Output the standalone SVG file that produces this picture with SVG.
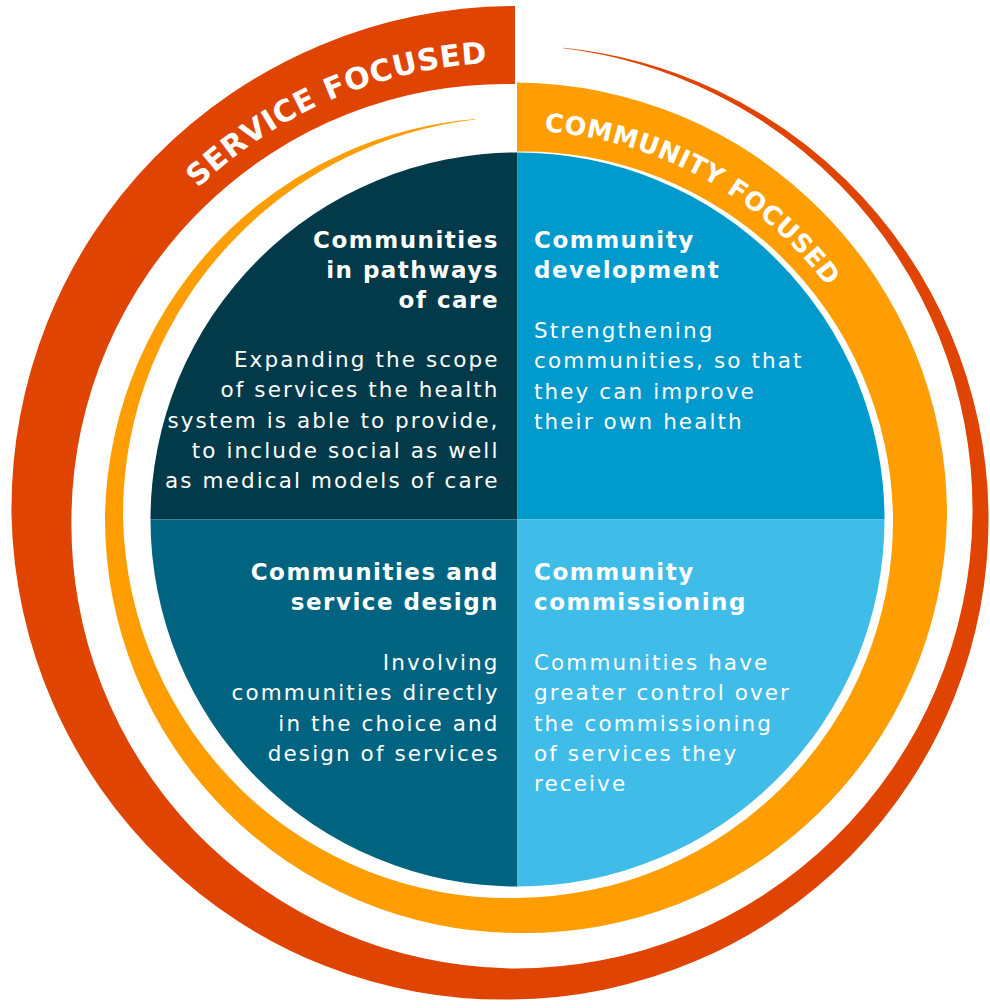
<svg xmlns="http://www.w3.org/2000/svg" width="990" height="1008" viewBox="0 0 990 1008">
<style>
.h{font-family:"DejaVu Sans",Verdana,sans-serif;font-weight:bold;font-size:23px;letter-spacing:1.5px;fill:#fff}
.b{font-family:"DejaVu Sans",Verdana,sans-serif;font-size:21.5px;letter-spacing:2.1px;fill:#fff}
.r{text-anchor:end}
.arc{font-family:"DejaVu Sans",Verdana,sans-serif;font-weight:bold;fill:#fff;text-anchor:middle}
</style>
<defs>
<path id="pSvc" d="M86.3,359.9 A452,452 0 0 1 511,62.5"/>
<path id="pCom" d="M517,130.5 A386,386 0 0 1 897.1,449.5"/>
</defs>
<rect width="990" height="1008" fill="#fff"/>
<g id="ring-service">
<path fill="#E04403" d="M563.4,47.7 A471.6,471.6 0 0 1 845.8,179.7 A475.5,475.5 0 0 1 988.5,514.5 A479.5,479.5 0 0 1 851.5,855 A483.3,483.3 0 0 1 511,999.5 A488.3,488.3 0 0 1 163.5,862 A495.5,495.5 0 0 1 11.5,514.5 A502,502 0 0 1 154.3,157.8 A506.5,506.5 0 0 1 515,6 L515,84 A432.5,432.5 0 0 0 203.8,207.3 A437,437 0 0 0 71.5,514.5 A443.5,443.5 0 0 0 194.6,830.9 A450.8,450.8 0 0 0 511,968.5 A455.8,455.8 0 0 0 834.5,838 A459.5,459.5 0 0 0 972.5,514.5 A463.5,463.5 0 0 0 840.2,185.3 A467.4,467.4 0 0 0 563.3,48.2 Z"/>
<text class="arc" font-size="30" letter-spacing="0.7"><textPath href="#pSvc" startOffset="367.6">SERVICE FOCUSED</textPath></text>
</g>
<g id="ring-community">
<path fill="#FF9E02" d="M517,82.5 A432.7,432.7 0 0 1 822.1,211.4 A430.7,430.7 0 0 1 947,516.5 A426.5,426.5 0 0 1 816.1,815.6 A419.7,419.7 0 0 1 517,933 A415.2,415.2 0 0 1 224.3,809.2 A413,413 0 0 1 105,516.5 A409,409 0 0 1 229.9,229.4 A403,403 0 0 1 475.2,119 L475.3,119.4 A397.6,397.6 0 0 0 237,236.5 A395,395 0 0 0 123,516.5 A391,391 0 0 0 242.6,790.9 A384.7,384.7 0 0 0 517,898 A380.2,380.2 0 0 0 785,784.5 A377.5,377.5 0 0 0 893,516.5 A373.2,373.2 0 0 0 779,254.5 A367.7,367.7 0 0 0 517,151.5 Z"/>
<text class="arc" font-size="25.5" letter-spacing="0.6"><textPath href="#pCom" startOffset="194">COMMUNITY FOCUSED</textPath></text>
</g>
<g id="pathways">
<path fill="#033A4A" d="M517.5,519.5 L150.5,519.5 A367,367 0 0 1 517.5,152.5 Z"/>
<text class="h r" x="499" y="248">Communities</text>
<text class="h r" x="499" y="278">in pathways</text>
<text class="h r" x="499" y="308">of care</text>
<text class="b r" x="499.5" y="367">Expanding the scope</text>
<text class="b r" x="499.5" y="397.25">of services the health</text>
<text class="b r" x="499.5" y="427.5">system is able to provide,</text>
<text class="b r" x="499.5" y="457.75">to include social as well</text>
<text class="b r" x="499.5" y="488">as medical models of care</text>
</g>
<g id="development">
<path fill="#009ACD" d="M517.5,519.5 L517.5,152.5 A367,367 0 0 1 884.5,519.5 Z"/>
<text class="h" x="534" y="248">Community</text>
<text class="h" x="534" y="278">development</text>
<text class="b" x="534" y="338">Strengthening</text>
<text class="b" x="534" y="368.25">communities, so that</text>
<text class="b" x="534" y="398.5">they can improve</text>
<text class="b" x="534" y="428.75">their own health</text>
</g>
<g id="design">
<path fill="#00637F" d="M517.5,519.5 L517.5,886.5 A367,367 0 0 1 150.5,519.5 Z"/>
<text class="h r" x="499" y="580">Communities and</text>
<text class="h r" x="499" y="610">service design</text>
<text class="b r" x="499.5" y="670">Involving</text>
<text class="b r" x="499.5" y="700.25">communities directly</text>
<text class="b r" x="499.5" y="730.5">in the choice and</text>
<text class="b r" x="499.5" y="760.75">design of services</text>
</g>
<g id="commissioning">
<path fill="#3FBCE8" d="M517.5,519.5 L884.5,519.5 A367,367 0 0 1 517.5,886.5 Z"/>
<text class="h" x="534" y="580">Community</text>
<text class="h" x="534" y="610">commissioning</text>
<text class="b" x="534" y="670">Communities have</text>
<text class="b" x="534" y="700.25">greater control over</text>
<text class="b" x="534" y="730.5">the commissioning</text>
<text class="b" x="534" y="760.75">of services they</text>
<text class="b" x="534" y="791">receive</text>
</g>
</svg>
